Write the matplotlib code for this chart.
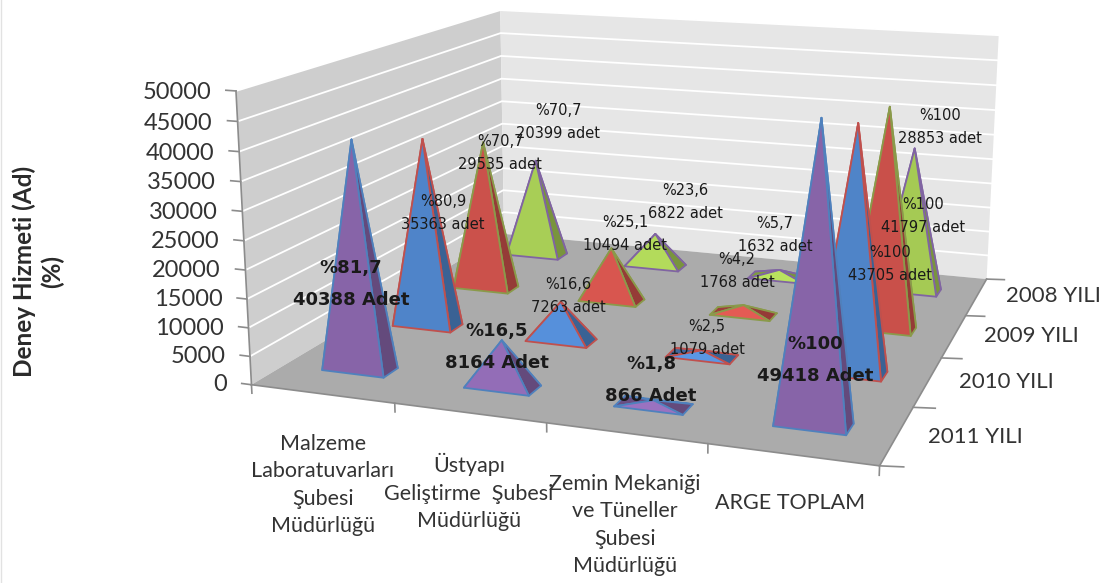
import numpy as np
import matplotlib
matplotlib.use('Agg')
import matplotlib.pyplot as plt
from matplotlib.colors import to_rgb
from matplotlib.lines import Line2D
from mpl_toolkits.mplot3d import proj3d
from mpl_toolkits.mplot3d.art3d import Poly3DCollection

W, H = 1105, 583

# chart data
categories = ['Malzeme\nLaboratuvarları\nŞubesi\nMüdürlüğü',
              'Üstyapı\nGeliştirme  Şubesi\nMüdürlüğü',
              'Zemin Mekaniği\nve Tüneller\nŞubesi\nMüdürlüğü',
              'ARGE TOPLAM']
years = ['2011 YILI', '2010 YILI', '2009 YILI', '2008 YILI']
values_2011 = [40388, 8164, 866, 49418]
values_2010 = [35363, 7263, 1079, 43705]
values_2009 = [29535, 10494, 1768, 41797]
values_2008 = [20399, 6822, 1632, 28853]
percent_2011 = ['81,7', '16,5', '1,8', '100']
percent_2010 = ['80,9', '16,6', '2,5', '100']
percent_2009 = ['70,7', '25,1', '4,2', '100']
percent_2008 = ['70,7', '23,6', '5,7', '100']
z_ticks = np.arange(0, 50001, 5000)

series_values = [values_2011, values_2010, values_2009, values_2008]
series_percent = [percent_2011, percent_2010, percent_2009, percent_2008]
series_colors = ['#8764A8', '#4F84C8', '#C9504A', '#A3C853']
edge_colors = ['#4F81BD', '#C0504D', '#8A9A4A', '#8064A2']
units = ['Adet', 'adet', 'adet', 'adet']

# label centres in pixels
label_xy = [[(351, 284), (497, 347), (651, 380), (815, 360)],
            [(443, 213), (568, 296), (707, 338), (890, 264)],
            [(500, 153), (625, 234), (737, 271), (923, 216)],
            [(558, 122), (685, 202), (775, 235), (940, 127)]]
category_xy = [(323, 485), (469, 492), (625, 525), (790, 503)]
year_xy = [(975, 437), (1006, 382), (1031, 336), (1053, 296)]

fig = plt.figure(figsize=(W / 100, H / 100), dpi=100, facecolor='white')
ax = fig.add_subplot(projection='3d', computed_zorder=False)
ax.set_xlim(0, 4)
ax.set_ylim(0, 4)
ax.set_zlim(0, 50000)
ax.set_axis_off()

# camera
ax.view_init(elev=13.5592, azim=-71.1397, roll=-0.2128)
ax.set_proj_type('persp', focal_length=0.3881)
ax.set_box_aspect((2.1383, 2.1055, 1))


def px(x, y):
    return x / W, 1 - y / H


# size the axes so that the projected box has this scale and offset in pixels
scale, tx, ty = 4549.4, 654.96, 195.97
L0, B0, S0 = 300., 100., 300.
ax.set_position([L0 / W, B0 / H, S0 / W, S0 / H])
ax.apply_aspect()
o = ax.transData.transform((0, 0))
k = (ax.transData.transform((1, 0)) - o)[0]
S = scale * S0 / k
ax.set_position([(tx - S * (o[0] - L0) / S0) / W, (H - ty - S * (o[1] - B0) / S0) / H, S / W, S / H])
ax.apply_aspect()

# walls and floor
wall_kw = dict(linewidths=0, zorder=1)
ax.add_collection3d(Poly3DCollection([[(0, 0, 0), (0, 4, 0), (0, 4, 50000), (0, 0, 50000)]],
                                     facecolors='#CECECE', **wall_kw))
ax.add_collection3d(Poly3DCollection([[(0, 4, 0), (4, 4, 0), (4, 4, 50000), (0, 4, 50000)]],
                                     facecolors='#E6E6E6', **wall_kw))
ax.add_collection3d(Poly3DCollection([[(0, 0, 0), (4, 0, 0), (4, 4, 0), (0, 4, 0)]],
                                     facecolors='#ABABAB', **wall_kw))

# gridlines on the walls
axis_c = '#8C8C8C'
for z in z_ticks[1:]:
    ax.plot([0, 0, 4], [0, 4, 4], [z, z, z], color='white', lw=1.3, zorder=2)
    ax.plot([-0.07, 0], [0, 0], [z, z], color=axis_c, lw=1.2, zorder=2)

# axis lines and tick marks
ax.plot([0, 0], [0, 0], [0, 50000], color=axis_c, lw=1.2, zorder=2)
ax.plot([0, 4, 4], [0, 0, 4], [0, 0, 0], color=axis_c, lw=1.2, zorder=2)
ax.plot([-0.07, 0], [0, 0], [0, 0], color=axis_c, lw=1.2, zorder=2)
for i in range(5):
    ax.plot([i, i], [0, 0], [0, -1500], color=axis_c, lw=1.2, zorder=2)
    ax.plot([4, 4.13], [i, i + 0.03], [0, 0], color=axis_c, lw=1.2, zorder=2)


def shade(col, f):
    return tuple(np.clip(np.array(to_rgb(col)) * f, 0, 1))


# pyramids, back row first
wx, wy = 0.44, 0.20
order = 10
for j in range(3, -1, -1):
    for i in range(4):
        v = series_values[j][i]
        cx, cy = i + 0.5, j + 0.5
        a = (cx - wx / 2, cy - wy / 2, 0)
        b = (cx + wx / 2, cy - wy / 2, 0)
        c = (cx + wx / 2, cy + wy / 2, 0)
        d = (cx - wx / 2, cy + wy / 2, 0)
        top = (cx, cy, v)
        # back, left, right and front faces
        faces = [[d, c, top], [d, a, top], [c, b, top], [a, b, top]]
        # shallow pyramids catch more light on the front
        lift = 1 + 0.15 * (1 - v / 50000) ** 3
        col = series_colors[j]
        cols = [shade(col, 0.7), shade(col, 0.78), shade(col, 0.74), shade(col, lift)]
        ax.add_collection3d(Poly3DCollection(faces, facecolors=cols, edgecolors=edge_colors[j],
                                             linewidths=1.3, zorder=order, zsort='min'))
        order += 1

# value labels
for j in range(4):
    for i in range(4):
        txt = '%%%s\n%d %s' % (series_percent[j][i], series_values[j][i], units[j])
        bold = j == 0
        x, y = px(*label_xy[j][i])
        fig.text(x, y, txt, ha='center', va='center', ma='center', color='#1A1A1A',
                 family='DejaVu Sans', fontsize=13 if bold else 10.5,
                 fontweight='bold' if bold else 'normal', linespacing=1.95 if bold else 1.6, zorder=20)

# value axis labels follow the projected left edge
M = ax.get_proj()
for z in z_ticks:
    xp, yp, _ = proj3d.proj_transform(-0.175, 0, z - 600, M)
    xd, yd = ax.transData.transform((xp, yp))
    fig.text(xd / W, yd / H, str(z), ha='right', va='center', family='Lato', fontsize=17, color='#333333')

for t, (x, y) in zip(categories, category_xy):
    fig.text(*px(x, y), t, ha='center', va='center', ma='center', family='Lato', fontsize=15.5,
             color='#333333', linespacing=1.45)
for t, (x, y) in zip(years, year_xy):
    fig.text(*px(x, y), t, ha='center', va='center', family='Lato', fontsize=16, color='#333333')
fig.text(*px(38, 271), 'Deney Hizmeti (Ad)\n(%)', rotation=90, ha='center', va='center', ma='center',
         family='Lato', fontweight='bold', fontsize=17.5, color='#2A2A2A', linespacing=1.25)

# thin rule down the left side of the canvas
fig.add_artist(Line2D([1 / W, 1 / W], [0, 1], color='#E2E2E2', lw=1))

fig.savefig('out.png', dpi=100)
